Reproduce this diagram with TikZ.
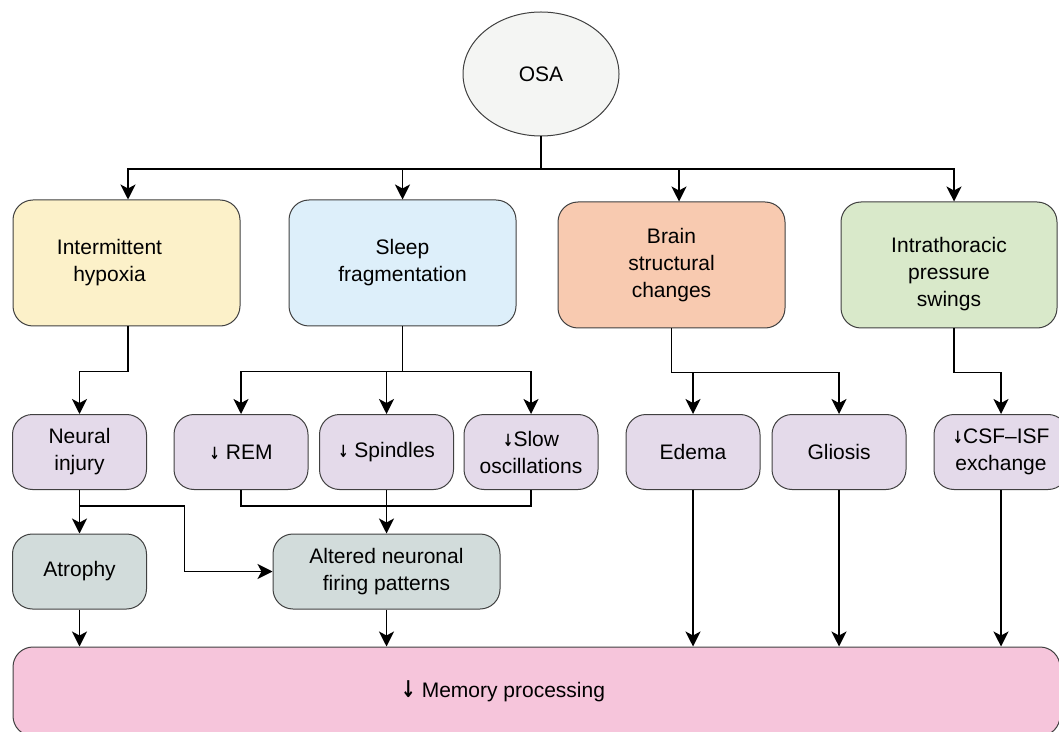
\documentclass[tikz,border=0pt]{standalone}
\usepackage{fontspec}
\setmainfont{Liberation Sans}
\newfontfamily\arrfont{DejaVu Sans}
\usetikzlibrary{shapes.geometric,arrows.meta}

\definecolor{osacol}{HTML}{F4F5F3}
\definecolor{hypcol}{HTML}{FCF1C9}
\definecolor{sleepcol}{HTML}{DDEFFA}
\definecolor{braincol}{HTML}{F8CAB0}
\definecolor{intracol}{HTML}{D9E9CA}
\definecolor{lavcol}{HTML}{E4DAEA}
\definecolor{greycol}{HTML}{D2DCDB}
\definecolor{pinkcol}{HTML}{F6C5DB}

\newcommand{\downar}{{\arrfont\bfseries\scalebox{0.6}[0.8]{↓}}}

\begin{document}
\begin{tikzpicture}[x=0.5pt,y=-0.5pt,
    box/.style={draw=black!75,line width=0.5pt,rounded corners=10pt,align=center,inner sep=0pt,
        font=\fontsize{10.5}{13.5}\selectfont},
    big/.style={box,minimum width=113.5pt,minimum height=63pt},
    small/.style={box,fill=lavcol,minimum width=67pt,minimum height=37.5pt},
    arr/.style={-{Stealth[length=7.5pt,width=7.5pt,inset=2pt]},line width=0.75pt},
    ln/.style={line width=0.75pt}]
        \useasboundingbox (0,0) rectangle (1059,732);

        % top
        \node[draw=black!75,line width=0.5pt,fill=osacol,ellipse,minimum width=78pt,minimum height=62pt,
            inner sep=0pt,font=\fontsize{10.5}{13.5}\selectfont] (osa) at (541,74) {OSA};

        % causes
        \node[big,fill=hypcol] (hyp) at (126.5,263) {Intermittent\hspace*{17pt}\\hypoxia\hspace*{17pt}};
        \node[big,fill=sleepcol] (sleep) at (402.5,263) {Sleep\\fragmentation};
        \node[big,fill=braincol] (brain) at (671.5,265) {Brain\\structural\\changes};
        \node[big,fill=intracol,minimum width=108pt] (intra) at (949,265)
            {\rule{0pt}{16.5pt}Intrathoracic\\pressure\\swings};

        % mechanisms
        \node[small] (neural) at (79.5,452) {Neural\\injury};
        \node[small] (rem) at (241,452) {\downar\ REM};
        \node[small] (spin) at (386.5,452) {\downar\ Spindles};
        \node[small] (slow) at (531,452) {\downar Slow\\oscillations};
        \node[small] (edema) at (693,452) {Edema};
        \node[small] (glio) at (839,452) {Gliosis};
        \node[small] (csf) at (1001,452) {\downar CSF--ISF\\exchange};

        \node[small,fill=greycol] (atro) at (79.5,571.5) {Atrophy};
        \node[big,fill=greycol,minimum height=37.5pt] (alt) at (386.5,571.5) {Altered neuronal\\firing patterns};

        % outcome
        \node[box,fill=pinkcol,minimum width=523.5pt,minimum height=44.5pt] (mem) at (536.5,691.5)
            {{\arrfont\bfseries\scalebox{0.85}[1.1]{↓}} Memory processing\hspace*{33.5pt}};

        % connectors
        \coordinate (bus) at (541,169);
        \draw[ln] (osa) -- (bus);
        \draw[arr] (bus) -| ([xshift=0.75pt]hyp.north);
        \draw[arr] (bus) -| (sleep.north);
        \draw[arr] (bus) -| ([xshift=3.75pt]brain.north);
        \draw[arr] (bus) -| ([xshift=2.5pt]intra.north);

        \draw[arr] ([xshift=0.75pt]hyp.south) -- ++(0,45) -| (neural.north);
        \draw[ln] (sleep.south) -- ++(0,45) coordinate (sl);
        \draw[arr] (sl) -| (rem.north);
        \draw[arr] (sl) -| (slow.north);
        \draw[arr] (sl -| spin.north) -- (spin.north);
        \draw[ln] (brain.south) -- ++(0,44) coordinate (br);
        \draw[arr] (br) -| (edema.north);
        \draw[arr] (br) -| (glio.north);
        \draw[arr] ([xshift=2.5pt]intra.south) -- ++(0,44) -| (csf.north);

        \draw[arr] (neural) -- (atro);
        \draw[arr] (neural.south) ++(0,16) -- ++(105,0) |- (alt.west);
        \draw[ln] (rem.south) -- ++(0,16) -| (slow.south);
        \draw[arr] (spin) -- (alt);

        \draw[arr] (atro) -- (atro |- mem.north);
        \draw[arr] (alt) -- (alt |- mem.north);
        \draw[arr] (edema) -- (edema |- mem.north);
        \draw[arr] (glio) -- (glio |- mem.north);
        \draw[arr] (csf) -- (csf |- mem.north);
    \end{tikzpicture}
\end{document}
